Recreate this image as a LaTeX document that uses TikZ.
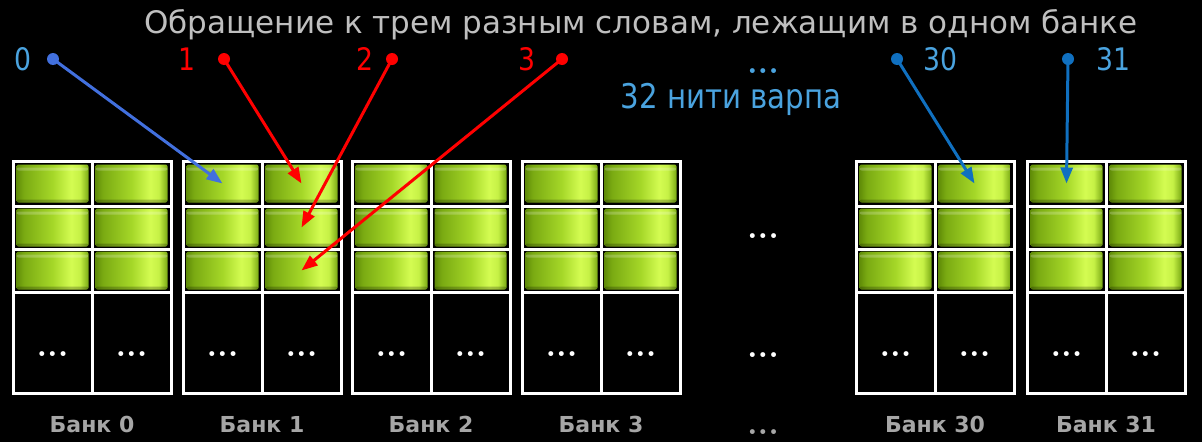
\documentclass[tikz,border=0pt]{standalone}
\usepackage{fontspec}
\setmainfont{DejaVu Sans}
\newfontfamily\narrow[FakeStretch=0.86]{DejaVu Sans}
\newfontfamily\dotsfont{Latin Modern Roman}
\usetikzlibrary{arrows.meta,positioning}
\definecolor{gedge}{RGB}{96,140,8}
\definecolor{gdark}{RGB}{122,170,18}
\definecolor{gmid}{RGB}{165,215,40}
\definecolor{glight}{RGB}{212,252,82}
\definecolor{gright}{RGB}{122,170,20}
\definecolor{lblue}{RGB}{74,163,223}
\definecolor{rblue}{RGB}{66,112,222}
\definecolor{dblue}{RGB}{16,112,192}
\definecolor{titlegrey}{RGB}{191,191,191}
\definecolor{bankgrey}{RGB}{166,166,166}
\pgfdeclarehorizontalshading{cyl}{100bp}{color(0bp)=(gedge); color(25bp)=(gedge); color(30bp)=(gdark); color(50bp)=(gmid); color(63bp)=(glight); color(69bp)=(glight!70!gmid); color(75bp)=(gright); color(100bp)=(gright)}

\begin{document}
\begin{tikzpicture}[x=1pt,y=-1pt,
    cell/.style={rectangle, rounded corners=2pt, minimum width=72pt,
      minimum height=38pt, inner sep=0pt, shading=cyl,
      path picture={
        \fill[white,opacity=.22] ([yshift=-3pt]path picture bounding box.north west)
          rectangle ([yshift=-6pt]path picture bounding box.north east);
        \fill[black,opacity=.22] ([yshift=3pt]path picture bounding box.south west)
          rectangle (path picture bounding box.south east);}},
    grid/.style={draw=white, line width=3pt},
    more/.style={text=white, font=\dotsfont\bfseries\fontsize{34}{34}\selectfont, inner sep=0pt, anchor=base},
    bank/.style={text=bankgrey, font=\bfseries\fontsize{22}{22}\selectfont, anchor=base},
    thread/.style={font=\narrow\fontsize{31}{31}\selectfont, inner sep=0pt},
    dot/.style={circle, inner sep=0pt, minimum size=12pt},
    link/.style={line width=3pt, -{Triangle[length=16pt,width=12pt]}}]

  \fill[black] (0,0) rectangle (1202,442);
  \useasboundingbox (0,0) rectangle (1202,442);

  \node[text=titlegrey, font=\fontsize{31}{31}\selectfont, anchor=base] (title) at (641,33)
    {Обращение к трем разным словам, лежащим в одном банке};

  \foreach \n/\x in {0/13,1/183,2/352,3/522,30/856,31/1027} {
    \foreach \r/\y in {1/183.5,2/227.5,3/270.5} {
      \node[cell] (b\n-\r-1) at (\x+39.5,\y) {};
      \node[cell] (b\n-\r-2) at (\x+118.5,\y) {};
    }
    \node[more] (b\n-d1) at (\x+39.5,356) {...};
    \node[more] (b\n-d2) at (\x+118.5,356) {...};
    \draw[grid] (\x,161) rectangle ++(158,232);
    \draw[grid] (\x+79,161) -- ++(0,232);
    \foreach \y in {206,249,292} \draw[grid] (\x,\y) -- ++(158,0);
    \node[bank] (lab\n) at (\x+79,432) {Банк \n};
  }

  \node[more] (gap1) at (763,238) {...};
  \node[more] (gap2) at (763,357) {...};
  \node[more, text=bankgrey] (gap3) at (763,434) {...};

  \node[dot, fill=rblue] (t0) at (53,59) {};
  \node[dot, fill=red] (t1) at (224,59) {};
  \node[dot, fill=red] (t2) at (392,59) {};
  \node[dot, fill=red] (t3) at (562,59) {};
  \node[dot, fill=dblue] (t30) at (897,59) {};
  \node[dot, fill=dblue] (t31) at (1068,59) {};

  \node[thread, text=lblue, left=15pt of t0] (n0) {0};
  \node[thread, text=red, left=22pt of t1] (n1) {1};
  \node[thread, text=red, left=12pt of t2] (n2) {2};
  \node[thread, text=red, left=20pt of t3] (n3) {3};
  \node[thread, text=lblue, right=20pt of t30] (n30) {30};
  \node[thread, text=lblue, right=22pt of t31] (n31) {31};
  \node[more, text=lblue] (warpdots) at (763,73) {...};
  \node[text=lblue, font=\narrow\fontsize{34}{34}\selectfont, anchor=base] (warp) at (731,108) {32 нити варпа};

  \draw[link, rblue] (t0.center) -- (b1-1-1.center);
  \draw[link, red] (t1.center) -- (b1-1-2.center);
  \draw[link, red] (t2.center) -- (b1-2-2.center);
  \draw[link, red] (t3.center) -- (b1-3-2.center);
  \draw[link, dblue] (t30.center) -- (b30-1-2.center);
  \draw[link, dblue] (t31.center) -- (b31-1-1.center);
\end{tikzpicture}
\end{document}
